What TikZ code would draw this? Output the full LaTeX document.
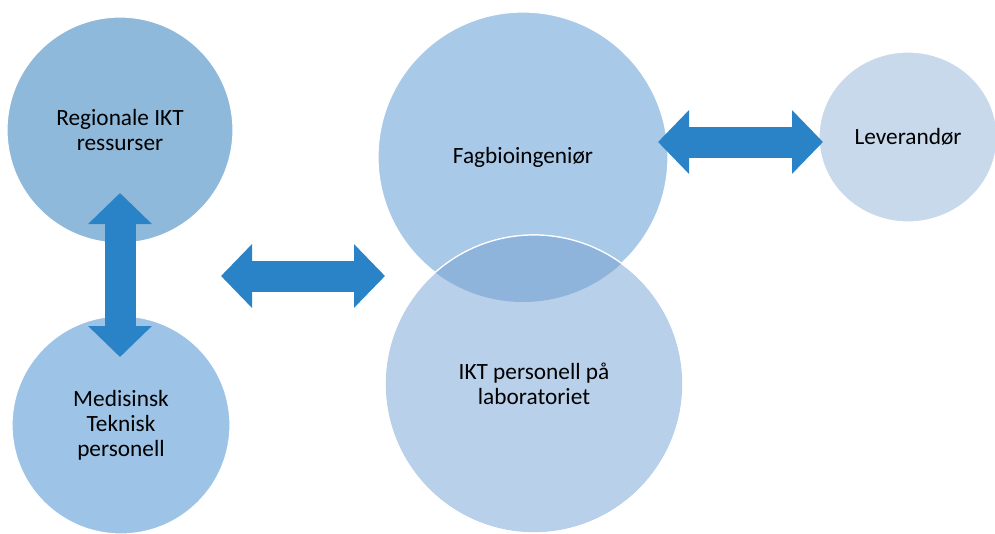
\documentclass[tikz,border=0pt]{standalone}
\usepackage{fontspec}
\setmainfont{Carlito}
\usetikzlibrary{arrows.meta,shapes.geometric}

\definecolor{regcol}{HTML}{8FB9DB}
\definecolor{medcol}{HTML}{9DC3E6}
\definecolor{fagcol}{HTML}{A9C9E8}
\definecolor{iktcol}{HTML}{B9D0EA}
\definecolor{levcol}{HTML}{C8D9EC}
\definecolor{snittcol}{HTML}{8FB4DB}
\definecolor{pilcol}{HTML}{2A83C6}

\begin{document}
\begin{tikzpicture}[
  x=1pt,y=-1pt,
  boble/.style={circle,draw=white,line width=1.2pt,inner sep=0pt,align=center,
    font=\fontsize{23.3}{25}\selectfont},
  blokkpil/.style={pilcol,line width=31pt,
    {Triangle[length=31pt,width=62pt]}-{Triangle[length=31pt,width=62pt]}}
  ]

  \useasboundingbox (0,0) rectangle (995,533);
  \clip (0,0) rectangle (995,533);

  \node[boble,fill=regcol,minimum size=226pt] (reg) at (120,130) {Regionale IKT\\ressurser};
  \node[boble,fill=medcol,minimum size=218pt] (med) at (121,425) {Medisinsk\\Teknisk\\personell};
  \node[boble,fill=fagcol,minimum size=290pt] (fag) at (523,157) {Fagbioingeniør};
  \node[boble,fill=iktcol,minimum size=298pt] (ikt) at (534,384) {IKT personell på\\laboratoriet};
  \node[boble,ellipse,fill=levcol,minimum width=178pt,minimum height=170pt] (lev) at (908,137) {Leverandør};

  % felles del av de to midtre boblene
  \begin{scope}
    \clip (fag.center) circle (145pt);
    \fill[snittcol] (ikt.center) circle (149pt);
  \end{scope}
  \draw[white,line width=1.2pt] (ikt.center) circle (149pt);

  \coordinate (reg-pil) at (120,193);
  \coordinate (med-pil) at (120,357);
  \coordinate (venstre-pil) at (221,276);
  \coordinate (midt-pil) at (385,276);
  \coordinate (fag-pil) at (658,142);
  \coordinate (lev-pil) at (823,142);

  \draw[blokkpil] (reg-pil) -- (med-pil);
  \draw[blokkpil] (venstre-pil) -- (midt-pil);
  \draw[blokkpil] (fag-pil) -- (lev-pil);

\end{tikzpicture}
\end{document}
